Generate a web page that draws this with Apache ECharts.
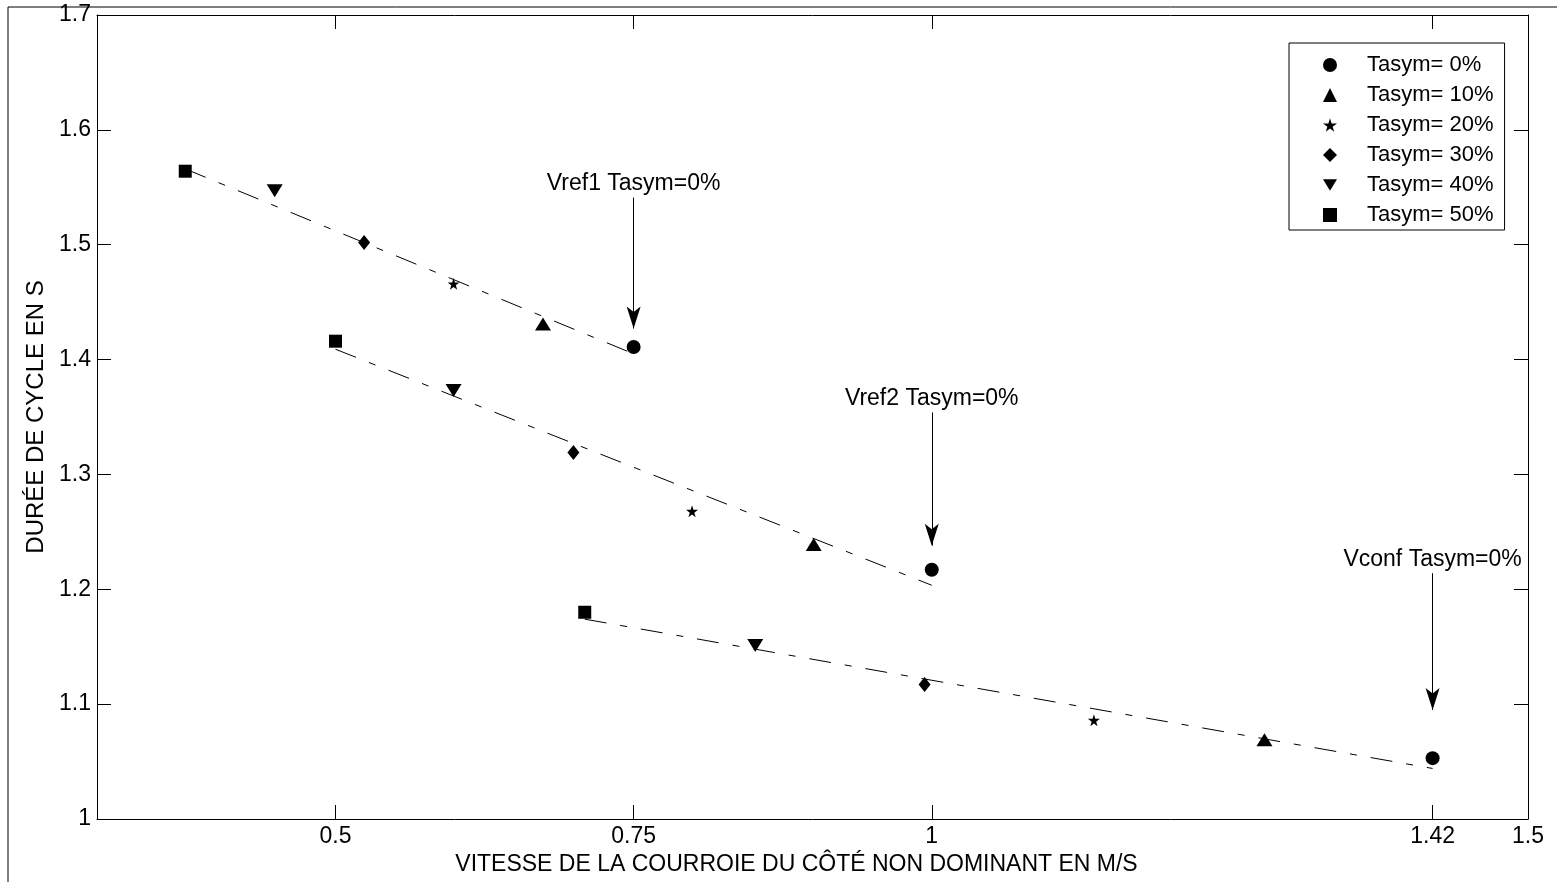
<!DOCTYPE html>
<html>
<head>
<meta charset="utf-8">
<title>Durée de cycle</title>
<script src="https://cdn.jsdelivr.net/npm/echarts@6/dist/echarts.min.js"></script>
<style>
  html, body { margin: 0; padding: 0; background: #fff; }
  #chart { width: 1557px; height: 882px; }
</style>
</head>
<body>
<div id="chart"></div>
<script>
// x ticks are not evenly spaced in the original figure
var X_TICKS = [0.5, 0.75, 1, 1.42, 1.5];

var NAMES = ['Tasym= 0%', 'Tasym= 10%', 'Tasym= 20%', 'Tasym= 30%', 'Tasym= 40%', 'Tasym= 50%'];

// measured points, one array pair per asymmetry level
var T0_X = [0.75, 1.0, 1.42];
var T0_Y = [1.411, 1.217, 1.053];
var T10_X = [0.674, 0.901, 1.279];
var T10_Y = [1.431, 1.239, 1.069];
var T20_X = [0.599, 0.799, 1.136];
var T20_Y = [1.466, 1.268, 1.086];
var T30_X = [0.524, 0.6995, 0.994];
var T30_Y = [1.502, 1.319, 1.117];
var T40_X = [0.449, 0.599, 0.852];
var T40_Y = [1.547, 1.373, 1.151];
var T50_X = [0.374, 0.5, 0.709];
var T50_Y = [1.564, 1.416, 1.180];

// fitted trend lines (dash-dot)
var FIT1_X = [0.374, 0.75];
var FIT1_Y = [1.566, 1.405];
var FIT2_X = [0.5, 1.0];
var FIT2_Y = [1.409, 1.2035];
var FIT3_X = [0.709, 1.42];
var FIT3_Y = [1.174, 1.044];

// arrows + text
var ANNOT_TEXT = ['Vref1 Tasym=0%', 'Vref2 Tasym=0%', 'Vconf Tasym=0%'];
var ARROW_X = [0.75, 1.0, 1.42];
var ARROW_Y0 = [1.541, 1.354, 1.214];
var ARROW_Y1 = [1.427, 1.238, 1.095];

function pairs(xs, ys) {
  var out = [];
  for (var i = 0; i < xs.length; i++) out.push([xs[i], ys[i]]);
  return out;
}

var FONT = 'Liberation Sans, Arial, sans-serif';
var STAR = 'path://M50,0 L61,35 L98,35 L68,57 L79,91 L50,70 L21,91 L32,57 L2,35 L39,35 Z';
var DOWN_TRI = 'path://M0,0 L16,0 L8,13 Z';

var symbols = ['circle', 'triangle', STAR, 'diamond', DOWN_TRI, 'rect'];
var sizes = [14, [16, 13], 12, [12, 15], [16, 13], 13];
var xs = [T0_X, T10_X, T20_X, T30_X, T40_X, T50_X];
var ys = [T0_Y, T10_Y, T20_Y, T30_Y, T40_Y, T50_Y];

var series = [];
var fits = [[FIT1_X, FIT1_Y], [FIT2_X, FIT2_Y], [FIT3_X, FIT3_Y]];
for (var f = 0; f < fits.length; f++) {
  series.push({
    name: 'fit' + (f + 1),
    type: 'line',
    data: pairs(fits[f][0], fits[f][1]),
    showSymbol: false,
    symbol: 'none',
    lineStyle: { color: '#000', width: 1, type: [22, 14, 7, 14] },
    silent: true
  });
}
for (var s = 0; s < NAMES.length; s++) {
  series.push({
    name: NAMES[s],
    type: 'scatter',
    data: pairs(xs[s], ys[s]),
    symbol: symbols[s],
    symbolSize: sizes[s],
    itemStyle: { color: '#000', opacity: 1 }
  });
}

var arrowLines = [];
for (var a = 0; a < ARROW_X.length; a++) {
  arrowLines.push([
    { coord: [ARROW_X[a], ARROW_Y0[a]] },
    { coord: [ARROW_X[a], ARROW_Y1[a]], symbolSize: [10.5, 22] }
  ]);
}
var annotData = [];
for (var k = 0; k < ANNOT_TEXT.length; k++) {
  annotData.push({ name: ANNOT_TEXT[k], value: [ARROW_X[k], ARROW_Y0[k]] });
}
series.push({
  name: 'annotations',
  type: 'scatter',
  data: annotData,
  symbolSize: 0,
  silent: true,
  itemStyle: { color: '#000', opacity: 1 },
  label: {
    show: true,
    position: 'top',
    distance: 2,
    formatter: '{b}',
    color: '#000',
    opacity: 1,
    fontSize: 23,
    fontFamily: FONT
  },
  markLine: {
    silent: true,
    symbol: ['none', 'arrow'],
    label: { show: false },
    lineStyle: { color: '#000', width: 1, type: 'solid', opacity: 1 },
    itemStyle: { color: '#000' },
    emphasis: { disabled: true },
    data: arrowLines
  }
});

var chart = echarts.init(document.getElementById('chart'));
chart.setOption({
  animation: false,
  backgroundColor: '#fff',
  textStyle: { fontFamily: FONT, color: '#000' },
  graphic: [{
    type: 'rect',
    shape: { x: 8, y: 7, width: 1600, height: 900 },
    style: { fill: 'none', stroke: '#000', lineWidth: 1 },
    silent: true
  }],
  grid: { left: 97, right: 29, top: 15, bottom: 63 },
  legend: {
    data: NAMES,
    orient: 'vertical',
    left: 1289,
    top: 43,
    padding: [11, 11, 4, 34],
    itemWidth: 14,
    itemHeight: 14,
    itemGap: 8,
    borderColor: '#000',
    borderWidth: 1,
    backgroundColor: '#fff',
    selectedMode: false,
    textStyle: { fontSize: 22, color: '#000', fontFamily: FONT, padding: [0, 0, 0, 25] }
  },
  xAxis: [{
    type: 'value',
    min: 0.3,
    max: 1.5,
    name: 'VITESSE DE LA COURROIE DU CÔTÉ NON DOMINANT EN M/S',
    nameLocation: 'middle',
    nameGap: 34,
    nameTextStyle: { fontSize: 23, color: '#000', fontFamily: FONT, padding: [0, 32, 0, 0] },
    axisLine: { lineStyle: { color: '#000', width: 1 } },
    axisTick: { inside: true, length: 14, customValues: X_TICKS, lineStyle: { color: '#000' } },
    axisLabel: { customValues: X_TICKS, fontSize: 23, color: '#000', margin: 6, fontFamily: FONT },
    splitLine: { show: false }
  }, {
    type: 'value',
    position: 'top',
    min: 0.3,
    max: 1.5,
    axisLine: { lineStyle: { color: '#000', width: 1 } },
    axisTick: { inside: true, length: 14, customValues: X_TICKS, lineStyle: { color: '#000' } },
    axisLabel: { show: false },
    splitLine: { show: false }
  }],
  yAxis: [{
    type: 'value',
    min: 1,
    max: 1.7,
    interval: 0.1,
    name: 'DURÉE DE CYCLE EN S',
    nameLocation: 'middle',
    nameGap: 49,
    nameTextStyle: { fontSize: 24, color: '#000', fontFamily: FONT },
    axisLine: { show: true, lineStyle: { color: '#000', width: 1 } },
    axisTick: { show: true, inside: true, length: 14, lineStyle: { color: '#000' } },
    axisLabel: { fontSize: 23, color: '#000', margin: 6, fontFamily: FONT },
    splitLine: { show: false }
  }, {
    type: 'value',
    position: 'right',
    min: 1,
    max: 1.7,
    interval: 0.1,
    axisLine: { show: true, lineStyle: { color: '#000', width: 1 } },
    axisTick: { show: true, inside: true, length: 14, lineStyle: { color: '#000' } },
    axisLabel: { show: false },
    splitLine: { show: false }
  }],
  series: series
});
</script>
</body>
</html>
